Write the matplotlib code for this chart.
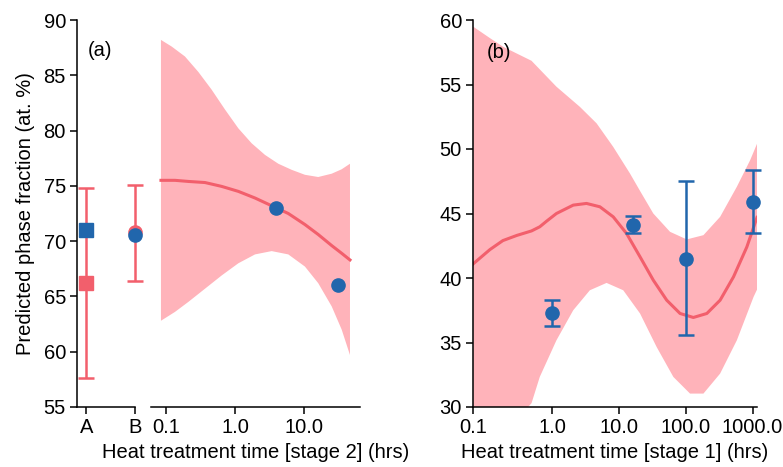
import matplotlib
matplotlib.use("Agg")
import matplotlib.pyplot as plt
import matplotlib.ticker as mticker
import numpy as np

plt.rcParams['font.family'] = ['Liberation Sans', 'DejaVu Sans']
plt.rcParams['font.size'] = 14.5

red = '#f25f6c'
pink = '#ffb3ba'
blue = '#2166ac'

# panel (a), left part: samples A and B
ab_pos = [0, 1]
ab_labels = ['A', 'B']
ab_pred = [66.2, 70.8]
ab_pred_lo = [57.6, 66.4]
ab_pred_hi = [74.8, 75.1]
ab_meas = [71.0, 70.6]

# panel (a), stage 2 model (mean, upper and lower bound)
t2 = [0.083, 0.133, 0.208, 0.365, 0.64, 1.12, 1.96, 3.43, 6.0, 10.5, 16.4, 25.8, 36.1, 47.7]
m2 = [75.5, 75.5, 75.4, 75.3, 74.95, 74.5, 73.9, 73.2, 72.5, 71.5, 70.6, 69.6, 68.9, 68.3]
t2_up = [0.083, 0.119, 0.186, 0.292, 0.456, 0.715, 1.12, 1.75, 2.74, 4.29, 6.72, 10.5,
         16.4, 25.8, 36.1, 47.7]
up2 = [88.2, 87.6, 86.7, 85.3, 83.7, 81.9, 80.2, 78.85, 77.8, 77.0, 76.45, 76.0,
       75.8, 76.1, 76.5, 77.0]
t2_lo = t2
lo2 = [62.8, 63.6, 64.5, 65.7, 66.9, 68.0, 68.8, 69.1, 68.8, 67.7, 66.2, 64.1, 62.0, 59.7]
t2_pts = [4.0, 32.0]
y2_pts = [73.0, 66.0]

# panel (b), stage 1 model (mean, upper and lower bound)
t1 = [0.066, 0.117, 0.183, 0.296, 0.492, 0.653, 0.824, 1.16, 2.07, 3.27, 5.19, 8.22,
      13.0, 20.7, 32.7, 51.9, 82.2, 130, 207, 327, 519, 822, 1166]
m1 = [41.1, 42.2, 42.9, 43.3, 43.65, 43.97, 44.4, 45.0, 45.65, 45.78, 45.52, 44.74,
      43.45, 41.64, 39.83, 38.28, 37.25, 36.94, 37.25, 38.28, 40.09, 42.41, 44.7]
t1_up = [0.066, 0.117, 0.184, 0.296, 0.491, 1.16, 2.6, 4.63, 8.2, 14.6, 20.7, 32.7,
         58.2, 103.5, 184, 327, 582, 922, 1166]
up1 = [59.48, 58.6, 57.93, 57.4, 56.84, 54.83, 53.27, 51.99, 50.17, 48.11, 46.75, 45.0,
       43.58, 42.99, 43.32, 44.74, 47.07, 49.14, 50.4]
t1_lo = [0.066, 0.117, 0.183, 0.296, 0.492, 0.653, 1.16, 2.07, 3.67, 6.53, 11.6, 20.7,
         36.7, 65.3, 116, 184, 327, 582, 1035, 1166]
lo1 = [22.9, 25.0, 27.3, 29.0, 30.3, 32.33, 35.17, 37.5, 39.05, 39.62, 39.05, 37.25,
       34.65, 32.33, 31.04, 31.04, 32.59, 35.17, 38.53, 39.1]
t1_pts = [1.0, 16.0, 100.0, 1000.0]
y1_pts = [37.3, 44.1, 41.5, 45.9]
y1_lo = [36.3, 43.45, 35.6, 43.45]
y1_hi = [38.3, 44.8, 47.5, 48.4]


def band(ax, t_up, up, t_lo, lo):
    xs = np.concatenate([t_up, t_lo[::-1]])
    ys = np.concatenate([up, lo[::-1]])
    ax.fill(xs, ys, color=pink, lw=0, zorder=1)


fig = plt.figure(figsize=(7.83, 4.67), dpi=100)
W, H = 783, 467
bot = 1 - 407 / H
hgt = 387 / H
ax0 = fig.add_axes([77 / W, bot, 58 / W, hgt])
ax1 = fig.add_axes([151 / W, bot, 209 / W, hgt])
ax2 = fig.add_axes([473 / W, bot, 284 / W, hgt])

for ax in (ax0, ax1, ax2):
    for s in ['top', 'right']:
        ax.spines[s].set_visible(False)
    ax.tick_params(direction='out', length=5, width=1.1, pad=3)
    ax.spines['left'].set_linewidth(1.1)
    ax.spines['bottom'].set_linewidth(1.1)

# left sub-panel (A, B)
err = [np.array(ab_pred) - np.array(ab_pred_lo), np.array(ab_pred_hi) - np.array(ab_pred)]
ax0.errorbar(ab_pos[0], ab_pred[0], yerr=[[err[0][0]], [err[1][0]]], fmt='s', color=red,
             ms=9.5, capsize=6, elinewidth=1.8, capthick=1.8, clip_on=False, zorder=2)
ax0.errorbar(ab_pos[1], ab_pred[1], yerr=[[err[0][1]], [err[1][1]]], fmt='o', color=red,
             ms=9.5, capsize=6, elinewidth=1.8, capthick=1.8, clip_on=False, zorder=2)
ax0.plot(ab_pos[0], ab_meas[0], 's', color=blue, ms=9.5, clip_on=False, zorder=3)
ax0.plot(ab_pos[1], ab_meas[1], 'o', color=blue, ms=9.5, clip_on=False, zorder=3)
ax0.set_xlim(-0.19, 1.0)
ax0.set_ylim(55, 90)
ax0.set_xticks(ab_pos)
ax0.set_xticklabels(ab_labels)
ax0.set_yticks(range(55, 91, 5))
ax0.set_ylabel('Predicted phase fraction (at. %)', labelpad=6)
ax0.text(0.19, 0.922, '(a)', transform=ax0.transAxes, va='center', ha='left')

# middle sub-panel (stage 2)
band(ax1, t2_up, up2, t2_lo, lo2)
ax1.plot(t2, m2, color=red, lw=2.2, zorder=2)
ax1.plot(t2_pts, y2_pts, 'o', color=blue, ms=9.5, zorder=3)
ax1.set_xscale('log')
ax1.set_xlim(0.0594, 66.8)
ax1.set_ylim(55, 90)
ax1.spines['left'].set_visible(False)
ax1.set_yticks([])
ax1.set_xticks([0.1, 1, 10])
ax1.set_xticklabels(['0.1', '1.0', '10.0'])
ax1.xaxis.set_minor_locator(mticker.NullLocator())
ax1.set_xlabel('Heat treatment time [stage 2] (hrs)', labelpad=4)

# right panel (stage 1)
band(ax2, t1_up, up1, t1_lo, lo1)
ax2.plot(t1, m1, color=red, lw=2.2, zorder=2)
ax2.errorbar(t1_pts, y1_pts,
             yerr=[np.array(y1_pts) - np.array(y1_lo), np.array(y1_hi) - np.array(y1_pts)],
             fmt='o', color=blue, ms=9.5, capsize=6, elinewidth=1.8, capthick=1.8,
             clip_on=False, zorder=3)
ax2.set_xscale('log')
ax2.set_xlim(0.0654, 1166)
ax2.set_ylim(30, 60)
ax2.set_yticks(range(30, 61, 5))
ax2.set_xticks([0.0654, 1, 10, 100, 1000])
ax2.set_xticklabels(['0.1', '1.0', '10.0', '100.0', '1000.0'])
ax2.xaxis.set_minor_locator(mticker.NullLocator())
ax2.set_xlabel('Heat treatment time [stage 1] (hrs)', labelpad=4)
ax2.text(0.049, 0.915, '(b)', transform=ax2.transAxes, va='center', ha='left')

fig.savefig('out.png', dpi=100)
